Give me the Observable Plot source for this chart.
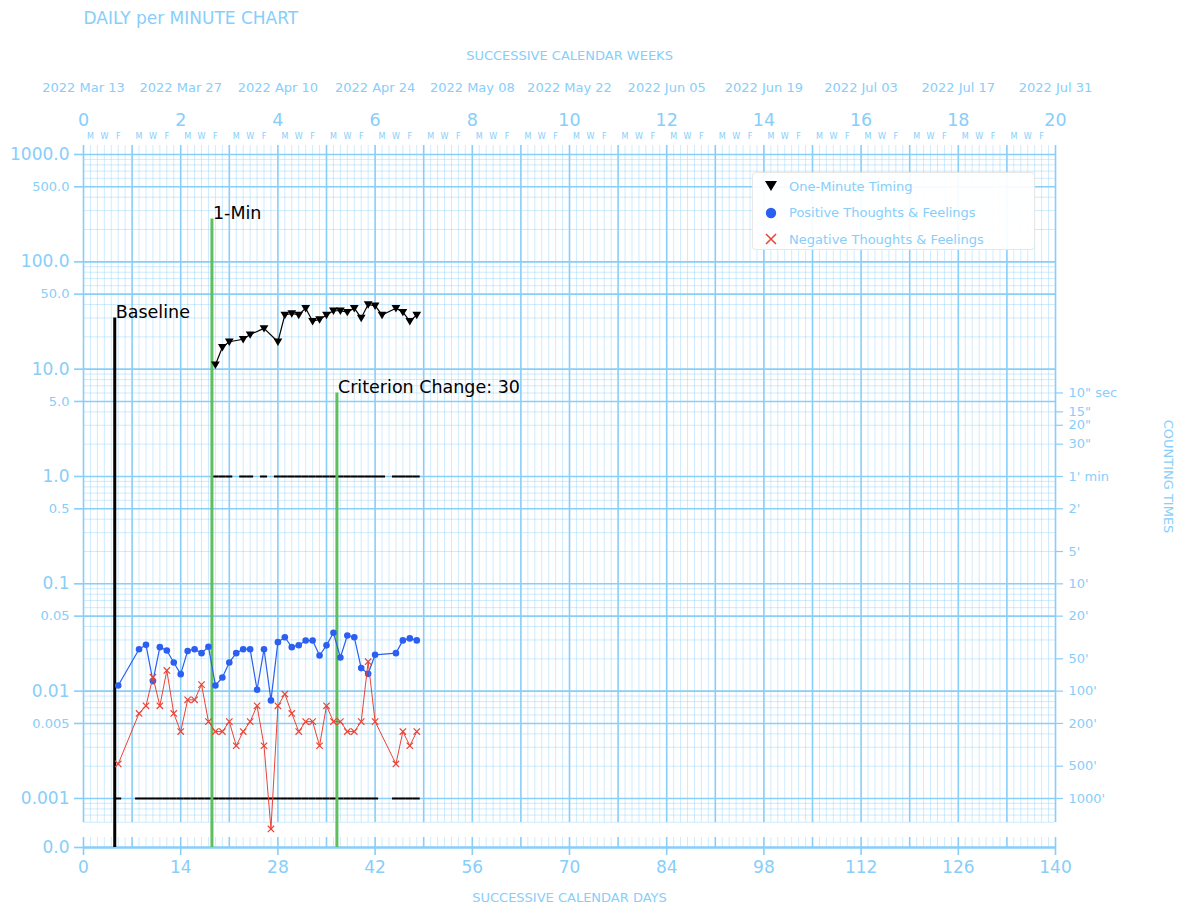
<!DOCTYPE html>
<html>
<head>
<meta charset="utf-8">
<script src="https://cdn.jsdelivr.net/npm/d3@7"></script>
<script src="https://cdn.jsdelivr.net/npm/@observablehq/plot@0.6"></script>
<style>
  body { margin: 0; background: #fff; }
  #wrap { position: relative; width: 1182px; height: 908px; font-family: "DejaVu Sans", sans-serif; }
  #legend { position: absolute; left: 752px; top: 172px; width: 283px; height: 78px;
            background: rgba(255,255,255,0.92); border: 1px solid rgba(210,210,210,0.5); border-radius: 4px; box-sizing: border-box; }
  .row { position: absolute; left: 0; height: 20px; display: flex; align-items: center; }
  .row svg { position: absolute; left: 10px; }
  .row span { position: absolute; left: 36px; white-space: nowrap; font-size: 13px; color: #87cefa; }
</style>
</head>
<body>
<div id="wrap">
  <div id="chart"></div>
  <div id="legend"></div>
</div>
<script>
// ---- Calendar (days since 2022 Mar 13, a Sunday) ----
const weekNumbers = [0, 2, 4, 6, 8, 10, 12, 14, 16, 18, 20];
const weekDates = ["2022 Mar 13", "2022 Mar 27", "2022 Apr 10", "2022 Apr 24", "2022 May 08",
  "2022 May 22", "2022 Jun 05", "2022 Jun 19", "2022 Jul 03", "2022 Jul 17", "2022 Jul 31"];
const dayTicks = [0, 14, 28, 42, 56, 70, 84, 98, 112, 126, 140];
const weekdayLetters = ["M", "W", "F"];
const weekdayOffsets = [1, 3, 5];

// ---- Count-per-minute axis ----
const yMajorTicks = [1000, 100, 10, 1, 0.1, 0.01, 0.001];
const yMajorLabels = ["1000.0", "100.0", "10.0", "1.0", "0.1", "0.01", "0.001"];
const yHalfTicks = [500, 50, 5, 0.5, 0.05, 0.005];
const yHalfLabels = ["500.0", "50.0", "5.0", "0.5", "0.05", "0.005"];
const zeroLabel = "0.0";
const countingRates = [6, 4, 3, 2, 1, 0.5, 0.2, 0.1, 0.05, 0.02, 0.01, 0.005, 0.002, 0.001];
const countingLabels = ['10" sec', '15"', '20"', '30"', "1' min", "2'", "5'", "10'", "20'", "50'",
  "100'", "200'", "500'", "1000'"];

// ---- One-minute timings (count per minute) ----
const oneMinDays = [19, 20, 21, 23, 24, 26, 28, 29, 30, 31, 32, 33, 34, 35, 36, 37, 38, 39, 40, 41, 42, 43, 45, 46, 47, 48];
const oneMinRates = [11, 16, 18, 19, 21, 24, 18, 32, 33, 32, 37, 28, 29, 32, 35, 35, 34, 37, 30, 40, 39, 32, 37, 34, 28, 32];
const oneMinFloor = 1;

// ---- All-day counts of thoughts & feelings (count per minute) ----
const dailyDays = [5, 8, 9, 10, 11, 12, 13, 14, 15, 16, 17, 18, 19, 20, 21, 22, 23, 24, 25, 26, 27,
  28, 29, 30, 31, 32, 33, 34, 35, 36, 37, 38, 39, 40, 41, 42, 45, 46, 47, 48];
const positiveRates = [0.0113, 0.0246, 0.027, 0.0124, 0.0257, 0.0239, 0.0185, 0.0144, 0.0237, 0.0246,
  0.0226, 0.0259, 0.0113, 0.0134, 0.0185, 0.0226, 0.0246, 0.0246, 0.0103, 0.0246, 0.0082,
  0.0286, 0.0318, 0.0257, 0.0268, 0.0296, 0.0296, 0.0215, 0.0267, 0.035, 0.0206, 0.033,
  0.0318, 0.0164, 0.0145, 0.0218, 0.0226, 0.0297, 0.031, 0.0297];
const negativeRates = [0.0021, 0.0062, 0.0073, 0.0135, 0.0073, 0.0156, 0.0062, 0.0042, 0.0083, 0.0083,
  0.0115, 0.0052, 0.0042, 0.0042, 0.0052, 0.0031, 0.0042, 0.0052, 0.0073, 0.0031, 0.00052,
  0.0073, 0.0094, 0.0062, 0.0042, 0.0052, 0.0052, 0.0031, 0.0073, 0.0052, 0.0052, 0.0042,
  0.0042, 0.0052, 0.0188, 0.0052, 0.0021, 0.0042, 0.0031, 0.0042];
const dailyFloor = 0.001;

// ---- Phase change lines ----
const phaseNames = ["Baseline", "1-Min", "Criterion Change: 30"];
const phaseDays = [4.5, 18.5, 36.5];
const phaseTops = [30, 250, 6];
const phaseColors = ["black", "#5dbf5d", "#5dbf5d"];

// ---- Legend ----
const seriesNames = ["One-Minute Timing", "Positive Thoughts & Feelings", "Negative Thoughts & Feelings"];

const LIGHT = "#87cefa";
const BLUE = "#2a5ff2";
const RED = "#ea4235";

// Layout of the log axis: pixels per decade, with 1000/min on row 154
const DECADE = 107.33;
const yAtPx = px => 1000 * Math.pow(10, (154 - px) / DECADE);
const xAtPx = px => (px - 83) * 140 / 972;
const yTop = yAtPx(145);      // top edge of the grid
const yZero = yAtPx(847);     // the "0.0" row / bottom axis
const gridFloor = yAtPx(822); // bottom edge of the grid
const bandTop = yAtPx(837);   // top of the inward day ticks on the bottom axis
const tickBottom = yAtPx(855);
const leftTickEnd = xAtPx(74);
const rightTickEnd = xAtPx(1063);

const oneMin = oneMinDays.map((d, i) => ({day: d, rate: oneMinRates[i]}));
const daily = dailyDays.map((d, i) => ({day: d, positive: positiveRates[i], negative: negativeRates[i]}));
const phases = phaseNames.map((n, i) => ({name: n, day: phaseDays[i], top: phaseTops[i], color: phaseColors[i]}));

// grid positions
const allDays = d3.range(0, 141);
const minorDays = allDays.filter(d => d % 7 !== 0);
const weekDays = allDays.filter(d => d % 7 === 0);
const hMinor = [], hMajor = [];
for (let e = -4; e <= 3; e++) {
  for (let k = 1; k <= 9; k++) {
    const v = k * Math.pow(10, e);
    if (v < gridFloor || v > yTop) continue;
    (k === 1 || k === 5 ? hMajor : hMinor).push(v);
  }
}
const weekdayMarks = d3.range(20).flatMap(w => weekdayOffsets.map((o, j) => ({day: w * 7 + o, letter: weekdayLetters[j]})));

// downward triangle marker
const triangleDown = {
  draw(context, size) {
    const s = Math.sqrt(size);
    context.moveTo(-0.62 * s, -0.45 * s);
    context.lineTo(0.62 * s, -0.45 * s);
    context.lineTo(0, 0.6 * s);
    context.closePath();
  }
};

const txt = {fill: LIGHT, lineAnchor: "middle"};

const chart = Plot.plot({
  width: 1182,
  height: 908,
  marginLeft: 83,
  marginRight: 127,
  marginTop: 145,
  marginBottom: 61,
  style: {fontFamily: "DejaVu Sans, sans-serif", background: "white", overflow: "visible"},
  x: {domain: [0, 140], axis: null},
  y: {type: "log", domain: [yZero, yTop], axis: null},
  color: {type: "identity"},
  marks: [
    // grid
    Plot.ruleX(minorDays, {x: d => d, y1: gridFloor, y2: yTop, stroke: LIGHT, strokeOpacity: 0.4, strokeWidth: 1}),
    Plot.ruleY(hMinor, {y: d => d, x1: 0, x2: 140, stroke: LIGHT, strokeOpacity: 0.4, strokeWidth: 1}),
    Plot.ruleY(hMajor, {y: d => d, x1: 0, x2: 140, stroke: LIGHT, strokeWidth: 1.6}),
    Plot.ruleX(weekDays, {x: d => d, y1: gridFloor, y2: yTop, stroke: LIGHT, strokeWidth: 1.6}),

    // bottom axis: inward day ticks, axis line, labelled ticks
    Plot.ruleX(minorDays, {x: d => d, y1: yZero, y2: bandTop, stroke: LIGHT, strokeOpacity: 0.4}),
    Plot.ruleX(weekDays, {x: d => d, y1: yZero, y2: bandTop, stroke: LIGHT, strokeWidth: 1.6}),
    Plot.ruleY([yZero], {stroke: LIGHT, strokeWidth: 2.5}),
    Plot.ruleX(dayTicks, {x: d => d, y1: yZero, y2: tickBottom, stroke: LIGHT, strokeWidth: 1.6}),
    Plot.text(dayTicks, {x: d => d, text: d => String(d), frameAnchor: "bottom", dy: 20, fontSize: 17, ...txt}),
    Plot.text(["SUCCESSIVE CALENDAR DAYS"], {frameAnchor: "bottom", dy: 50, fontSize: 13, ...txt}),

    // left axis
    Plot.ruleY(yMajorTicks, {y: d => d, x1: leftTickEnd, x2: 0, stroke: LIGHT, strokeWidth: 1.6}),
    Plot.ruleY(yHalfTicks, {y: d => d, x1: leftTickEnd, x2: 0, stroke: LIGHT, strokeWidth: 1.6}),
    Plot.ruleY([yZero], {y: d => d, x1: leftTickEnd, x2: 0, stroke: LIGHT, strokeWidth: 1.6}),
    Plot.text(yMajorTicks, {y: d => d, text: (d, i) => yMajorLabels[i], frameAnchor: "left", dx: -14, textAnchor: "end", fontSize: 17, ...txt}),
    Plot.text(yHalfTicks, {y: d => d, text: (d, i) => yHalfLabels[i], frameAnchor: "left", dx: -14, textAnchor: "end", fontSize: 13, ...txt}),
    Plot.text([yZero], {y: d => d, text: () => zeroLabel, frameAnchor: "left", dx: -14, textAnchor: "end", fontSize: 17, ...txt}),

    // right axis: counting times
    Plot.ruleY(countingRates, {y: d => d, x1: 140, x2: rightTickEnd, stroke: LIGHT, strokeWidth: 1.2}),
    Plot.text(countingRates, {y: d => d, text: (d, i) => countingLabels[i], frameAnchor: "right", dx: 13, textAnchor: "start", fontSize: 13, ...txt}),
    Plot.text(["COUNTING TIMES"], {frameAnchor: "right", dx: 113, dy: -20, rotate: 90, textAnchor: "middle", fontSize: 13, ...txt}),

    // top: titles, dates, week numbers, weekday letters
    Plot.text(["DAILY per MINUTE CHART"], {frameAnchor: "top-left", dy: -127, textAnchor: "start", fontSize: 17, ...txt}),
    Plot.text(["SUCCESSIVE CALENDAR WEEKS"], {frameAnchor: "top", dy: -90, fontSize: 13, ...txt}),
    Plot.text(weekNumbers, {x: w => w * 7, text: (w, i) => weekDates[i], frameAnchor: "top", dy: -58, fontSize: 13, ...txt}),
    Plot.text(weekNumbers, {x: w => w * 7, text: w => String(w), frameAnchor: "top", dy: -25, fontSize: 17.5, ...txt}),
    Plot.text(weekdayMarks, {x: "day", text: "letter", frameAnchor: "top", dy: -9, fontSize: 8, ...txt}),

    // record floors
    Plot.ruleY(oneMinDays, {y: () => oneMinFloor, x1: d => d - 0.5, x2: d => d + 0.5, stroke: "black", strokeWidth: 2}),
    Plot.ruleY(dailyDays, {y: () => dailyFloor, x1: d => d - 0.5, x2: d => d + 0.5, stroke: "black", strokeWidth: 2}),

    // phase change lines with their labels
    Plot.ruleX(phases, {x: "day", y1: yZero, y2: "top", stroke: d => d.color, strokeWidth: 3}),
    Plot.text(phases, {x: "day", y: "top", text: "name", textAnchor: "start", lineAnchor: "middle", dx: 1, dy: -6, fontSize: 17.5, fill: "black"}),

    // series
    Plot.line(oneMin, {x: "day", y: "rate", stroke: "black", strokeWidth: 1.2}),
    Plot.dot(oneMin, {x: "day", y: "rate", symbol: triangleDown, r: 4, fill: "black", stroke: "none"}),
    Plot.line(daily, {x: "day", y: "positive", stroke: BLUE, strokeWidth: 1.2}),
    Plot.dot(daily, {x: "day", y: "positive", r: 3.3, fill: BLUE, stroke: "none"}),
    Plot.line(daily, {x: "day", y: "negative", stroke: RED, strokeWidth: 1}),
    Plot.dot(daily, {x: "day", y: "negative", symbol: "times", r: 3, stroke: RED, strokeWidth: 1.2})
  ]
});
document.getElementById("chart").append(chart);

// legend
const legendSymbols = [
  '<svg width="16" height="16"><path d="M2,3 L14,3 L8,13 Z" fill="black"/></svg>',
  `<svg width="16" height="16"><circle cx="8" cy="8" r="5.2" fill="${BLUE}"/></svg>`,
  `<svg width="16" height="16"><path d="M3,3 L13,13 M13,3 L3,13" stroke="${RED}" stroke-width="1.5"/></svg>`
];
const legend = document.getElementById("legend");
seriesNames.forEach((name, i) => {
  const row = document.createElement("div");
  row.className = "row";
  row.style.top = (3 + i * 26.5) + "px";
  row.innerHTML = legendSymbols[i] + `<span>${name.replace("&", "&amp;")}</span>`;
  legend.append(row);
});
</script>
</body>
</html>
